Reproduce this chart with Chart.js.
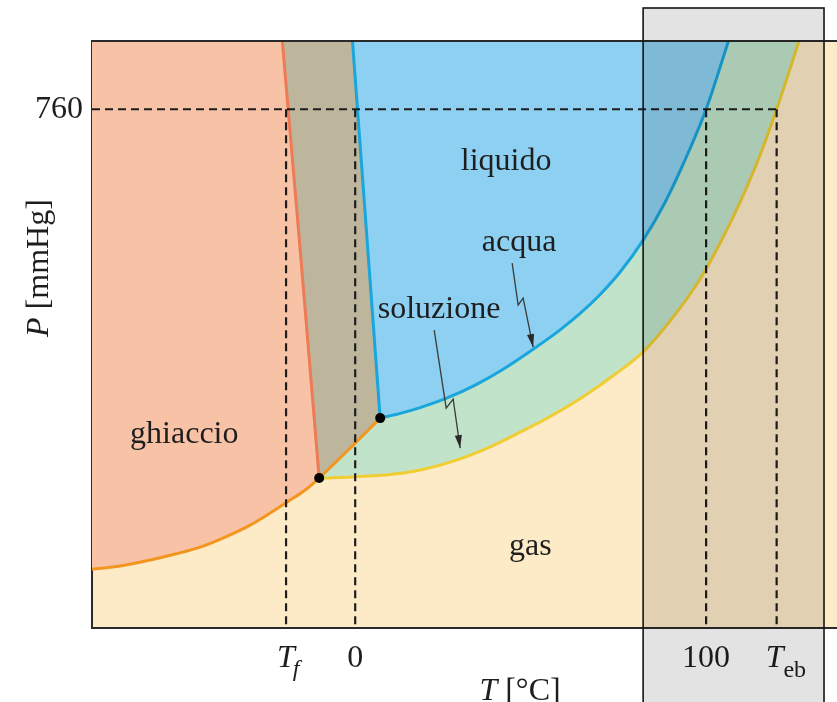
<!DOCTYPE html>
<html>
<head>
<meta charset="utf-8">
<script src="https://cdn.jsdelivr.net/npm/chart.js@4.4.1/dist/chart.umd.min.js"></script>
<style>
html, body { margin: 0; padding: 0; background: #fff; }
#wrap { width: 837px; height: 702px; }
</style>
</head>
<body>
<div id="wrap"><canvas id="diagram" width="837" height="702"></canvas></div>
<script>
// schematic phase diagram: T in °C, P in mmHg
var T_F = -19.7, T_EB = 120.1, P_ATM = 760;
var xTicks = [T_F, 0, 100, T_EB];
var xTickLabels = ['', '0', '100', ''];   // T_f and T_eb are drawn with subscripts below
var yTicks = [P_ATM];
var yTickLabels = ['760'];

// ice -> vapour (sublimation), left edge to the solution triple point
var sublimT = [-75.2, -66.95, -58.4, -51.28, -44.16, -37.04, -29.91, -24.22, -18.52, -14.25, -10.26];
var sublimP = [86, 90.8, 99.6, 108.4, 118.6, 133.3, 150.8, 168.4, 187.4, 202.1, 219.7];

// ice -> vapour between the two triple points
var sublim2T = [-10.26, 0, 7.12];
var sublim2P = [219.7, 270.9, 307.5];

// melting line of the solution
var solMeltT = [-20.8, -15.67, -10.26];
var solMeltP = [862, 553.5, 219.7];

// melting line of pure water
var waterMeltT = [-0.8, 7.12];
var waterMeltP = [862, 307.5];

// vapour pressure of pure water
var waterVapT = [7.12, 12.82, 18.52, 26.21, 34.19, 42.17, 50.71, 58.4, 64.1, 69.8, 75.5, 82.05, 88.32, 93.45, 100, 106.5];
var waterVapP = [307.5, 314.4, 322.9, 337.0, 355.8, 379.1, 408.4, 436.8, 460.8, 488.7, 521.5, 568.2, 623.8, 679.5, 760, 862];

// vapour pressure of the solution
var solVapT = [-10.26, -4.27, 1.42, 9.97, 18.52, 29.91, 38.46, 47.01, 55.56, 64.96, 74.07, 82.05, 89.74, 98.29, 103.99, 109.69, 115.38, 120.1, 126.6];
var solVapP = [219.7, 220.4, 221.9, 224.8, 231.4, 247.8, 265.3, 286.9, 309.9, 338.9, 371.7, 404.5, 449.9, 511.4, 564.1, 624.1, 693.0, 760, 862];

// triple points
var tripleT = [-10.26, 7.12];
var tripleP = [219.7, 307.5];

// label arrows
var arrowAcquaT = [44.73, 46.44, 47.86, 50.71];
var arrowAcquaP = [534.5, 473.0, 483.3, 411.5];
var arrowSolT = [22.51, 25.93, 27.92, 29.91];
var arrowSolP = [436.4, 322.2, 335.3, 263.6];

function pts(ts, ps) {
    var out = [];
    for (var i = 0; i < ts.length; i++) out.push({x: ts[i], y: ps[i]});
    return out;
}

var C = {
    gas: '#fdebc8', ice: '#f8c2a7', mix: '#bdb69c', liquid: '#8ed0f1', green: '#c0e3c9',
    blueLine: '#19a6dc', yellowLine: '#f0cd32', orangeLine: '#f2961f', salmonLine: '#ee7b55', ink: '#1e1e1e'
};
var serif = '"Liberation Serif", "DejaVu Serif", serif';

// regions (filled up to the top of the plot)
var brownData = pts(solMeltT, solMeltP).concat(pts(sublim2T.slice(1), sublim2P.slice(1)));
var blueData = pts(waterMeltT, waterMeltP).concat(pts(waterVapT.slice(1), waterVapP.slice(1)));
var orangeData = pts(sublimT, sublimP).concat(pts(sublim2T.slice(1), sublim2P.slice(1)));

function region(label, data, color, order, smooth) {
    return {label: label, data: data, borderWidth: 0, backgroundColor: color, fill: 'end', order: order,
        cubicInterpolationMode: smooth ? 'monotone' : 'default'};
}
function curve(label, data, color, smooth) {
    return {label: label, data: data, borderColor: color, borderWidth: 3, fill: false, order: 5,
        cubicInterpolationMode: smooth ? 'monotone' : 'default', borderCapStyle: 'round'};
}
function dashed(data) {
    return {data: data, borderColor: C.ink, borderWidth: 2.2, borderDash: [8, 5], fill: false, pointRadius: 0, order: 2};
}

var phasePlugin = {
    id: 'phase',
    beforeDraw: function(chart) {
        var a = chart.chartArea, c = chart.ctx;
        c.save();
        c.fillStyle = C.gas;
        c.fillRect(a.left, a.top, a.right - a.left, a.bottom - a.top);
        c.restore();
    },
    afterDatasetsDraw: function(chart) {
        var c = chart.ctx;
        chart.data.datasets.forEach(function(ds, i) {
            if (!ds.label || ds.label.indexOf('arrow') !== 0) return;
            var d = chart.getDatasetMeta(i).data;
            var p = d[d.length - 1], q = d[d.length - 2];
            var ang = Math.atan2(p.y - q.y, p.x - q.x);
            c.save();
            c.translate(p.x, p.y);
            c.rotate(ang);
            c.fillStyle = '#2a2a2a';
            c.beginPath();
            c.moveTo(0, 0);
            c.lineTo(-13, -3.6);
            c.lineTo(-13, 3.6);
            c.closePath();
            c.fill();
            c.restore();
        });
    },
    afterDraw: function(chart) {
        var c = chart.ctx, a = chart.chartArea;
        var xs = chart.scales.x, ys = chart.scales.y;
        c.save();
        // top frame line
        c.strokeStyle = '#2a2a2a';
        c.lineWidth = 2;
        c.beginPath();
        c.moveTo(a.left - 1, a.top);
        c.lineTo(a.right, a.top);
        c.stroke();

        // region labels
        c.fillStyle = C.ink;
        c.textAlign = 'center';
        c.textBaseline = 'alphabetic';
        c.font = '32px ' + serif;
        [['liquido', 43.0, 670.7], ['acqua', 46.7, 552.1], ['soluzione', 23.9, 454.0],
         ['ghiaccio', -48.7, 270.9], ['gas', 49.9, 106.9]].forEach(function(l) {
            c.fillText(l[0], xs.getPixelForValue(l[1]), ys.getPixelForValue(l[2]));
        });

        // T_f and T_eb tick labels
        c.textAlign = 'left';
        var xf = xs.getPixelForValue(T_F);
        c.font = 'italic 32px ' + serif;
        c.fillText('T', xf - 9, 667);
        var wT = c.measureText('T').width;
        c.font = 'italic 24px ' + serif;
        c.fillText('f', xf - 9 + wT - 2, 676);
        var xe = xs.getPixelForValue(T_EB);
        c.font = 'italic 32px ' + serif;
        c.fillText('T', xe - 11, 667);
        c.font = '24px ' + serif;
        c.fillText('eb', xe - 11 + wT, 677);

        // axis titles
        function mixed(parts, cx, y) {
            var w = 0;
            parts.forEach(function(p) { c.font = p[1]; w += c.measureText(p[0]).width; });
            var x = cx - w / 2;
            parts.forEach(function(p) { c.font = p[1]; c.fillText(p[0], x, y); x += c.measureText(p[0]).width; });
        }
        mixed([['T', 'italic 32px ' + serif], [' [°C]', '32px ' + serif]], 520, 700);
        c.translate(48, 268);
        c.rotate(-Math.PI / 2);
        mixed([['P', 'italic 32px ' + serif], [' [mmHg]', '32px ' + serif]], 0, 0);
        c.restore();

        // shaded highlight box around the boiling region
        c.save();
        var bx0 = xs.getPixelForValue(82.05), bx1 = xs.getPixelForValue(133.6);
        c.fillStyle = 'rgba(0,0,0,0.11)';
        c.fillRect(bx0, 8, bx1 - bx0, chart.height);
        c.strokeStyle = '#151515';
        c.lineWidth = 1.6;
        c.strokeRect(bx0, 8, bx1 - bx0, chart.height + 10);
        c.restore();
    }
};

var chart = new Chart(document.getElementById('diagram'), {
    type: 'line',
    data: {
        datasets: [
            {label: 'triple', data: pts(tripleT, tripleP), showLine: false, pointRadius: 5, pointBackgroundColor: '#000', pointBorderWidth: 0, order: 1},
            dashed([{x: -75, y: P_ATM}, {x: T_EB, y: P_ATM}]),
            dashed([{x: T_F, y: P_ATM}, {x: T_F, y: 0}]),
            dashed([{x: 0, y: P_ATM}, {x: 0, y: 0}]),
            dashed([{x: 100, y: P_ATM}, {x: 100, y: 0}]),
            dashed([{x: T_EB, y: P_ATM}, {x: T_EB, y: 0}]),
            {label: 'arrow-acqua', data: pts(arrowAcquaT, arrowAcquaP), borderColor: '#3a3a3a', borderWidth: 1.3, fill: false, order: 3},
            {label: 'arrow-sol', data: pts(arrowSolT, arrowSolP), borderColor: '#3a3a3a', borderWidth: 1.3, fill: false, order: 3},
            curve('water vapour', pts(waterVapT, waterVapP), C.blueLine, true),
            curve('water melting', pts(waterMeltT, waterMeltP), C.blueLine, false),
            curve('solution vapour', pts(solVapT, solVapP), C.yellowLine, true),
            curve('solution melting', pts(solMeltT, solMeltP), C.salmonLine, false),
            curve('ice vapour', orangeData, C.orangeLine, true),
            region('liquido', blueData, C.liquid, 7, false),
            region('ghiaccio + liquido', brownData, C.mix, 8, false),
            region('ghiaccio', pts(sublimT, sublimP), C.ice, 9, true),
            region('liquido soluzione', pts(solVapT, solVapP), C.green, 10, true)
        ]
    },
    options: {
        responsive: false,
        animation: false,
        layout: { autoPadding: false, padding: { top: 41, left: 0, right: 0, bottom: 0 } },
        elements: { point: { radius: 0 }, line: { tension: 0 } },
        plugins: { legend: { display: false }, tooltip: { enabled: false } },
        scales: {
            x: {
                type: 'linear', min: -75, max: 137.3,
                grid: { display: false },
                border: { display: true, color: '#2a2a2a', width: 2 },
                afterFit: function(s) { s.height = 74; s.paddingLeft = 0; s.paddingRight = 0; },
                afterBuildTicks: function(s) { s.ticks = xTicks.map(function(v) { return {value: v}; }); },
                ticks: {
                    autoSkip: false, maxRotation: 0, padding: 3, color: C.ink,
                    font: { family: serif, size: 32 },
                    callback: function(v, i) { return xTickLabels[i]; }
                }
            },
            y: {
                type: 'linear', min: 0, max: 860,
                grid: { display: false },
                border: { display: true, color: '#2a2a2a', width: 2 },
                afterFit: function(s) { s.width = 92; },
                afterBuildTicks: function(s) { s.ticks = yTicks.map(function(v) { return {value: v}; }); },
                ticks: {
                    padding: 1, color: C.ink,
                    font: { family: serif, size: 32 },
                    callback: function(v, i) { return yTickLabels[i]; }
                }
            }
        }
    },
    plugins: [phasePlugin]
});
</script>
</body>
</html>
